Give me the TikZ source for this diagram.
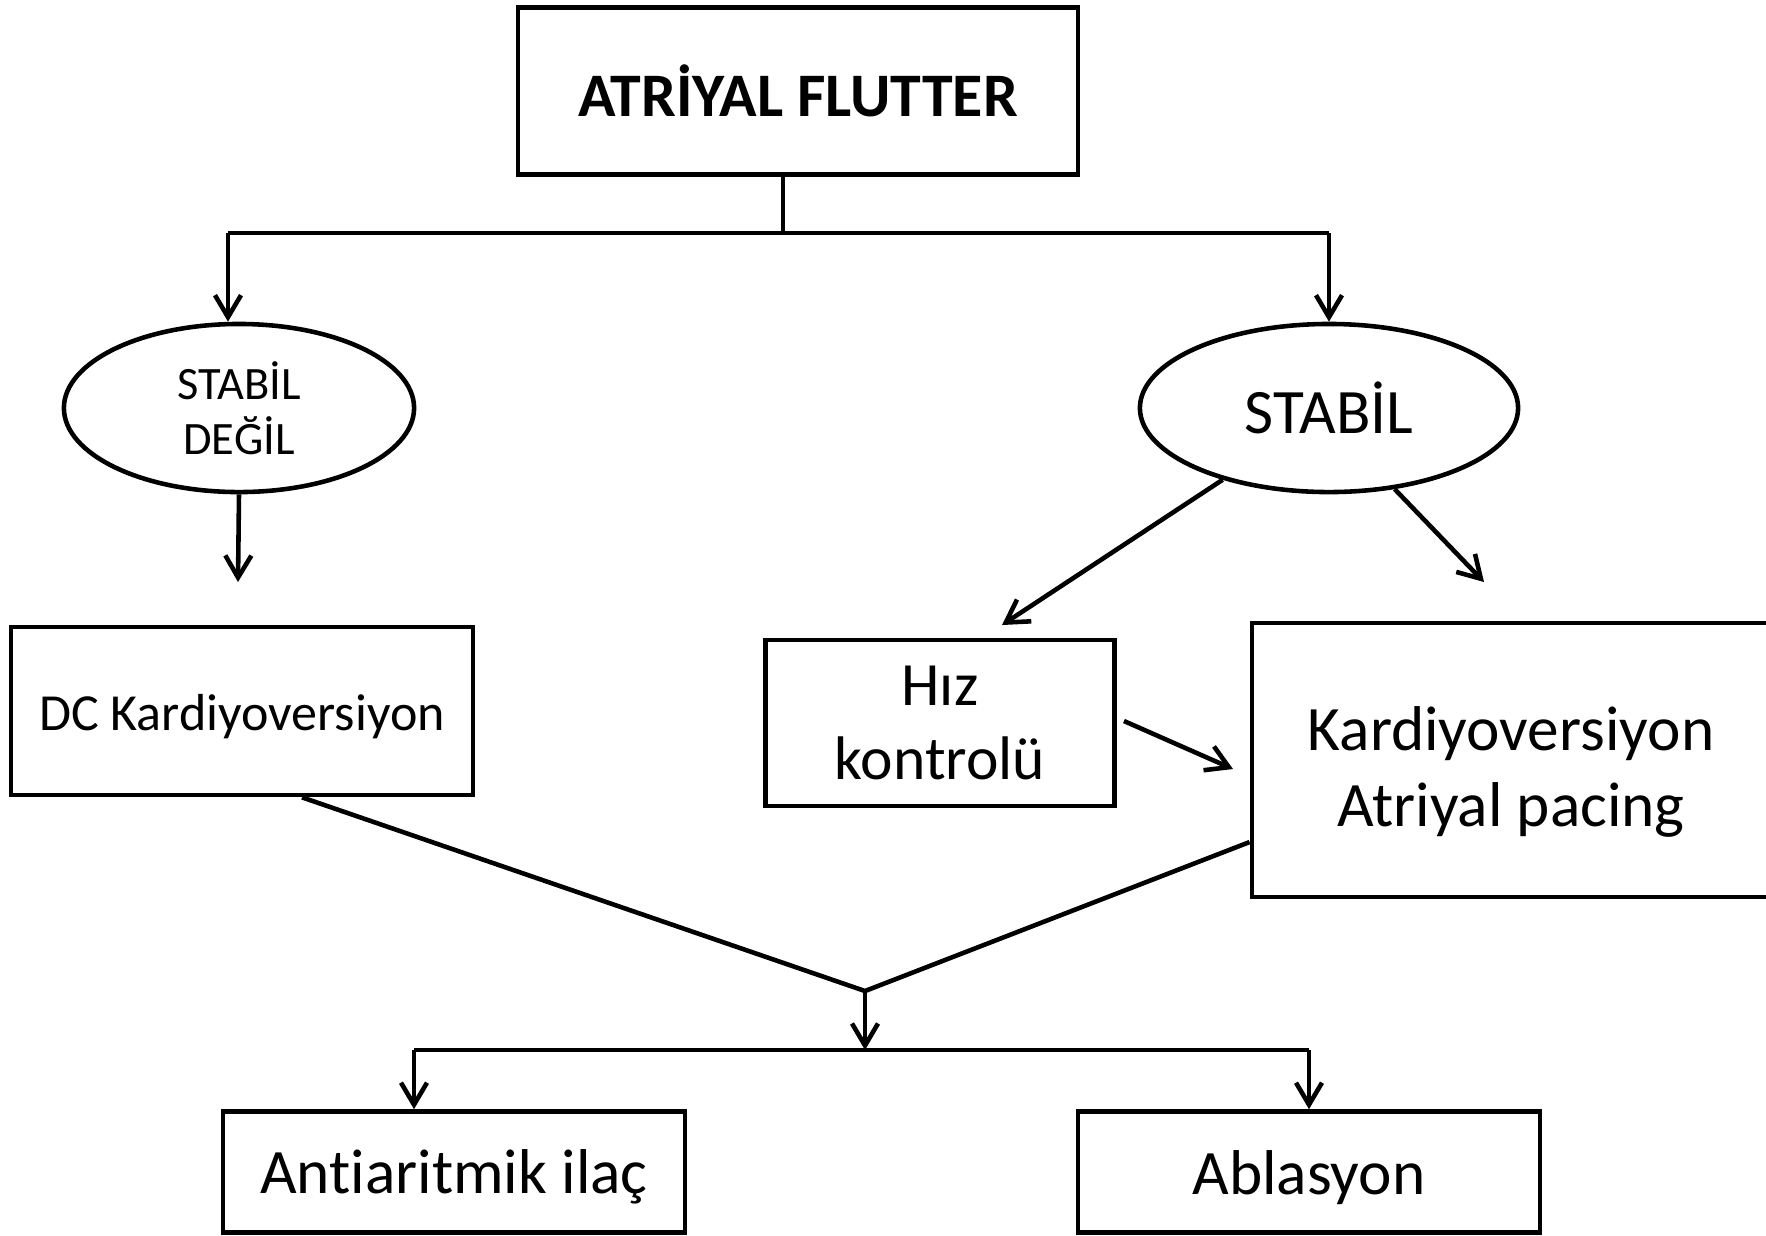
\documentclass[tikz,border=0pt]{standalone}
\usepackage{fontspec}
\setmainfont{Carlito}[Ligatures=NoCommon]
\usetikzlibrary{shapes.geometric,arrows.meta}

\begin{document}
\begin{tikzpicture}[x=0.01cm, y=-0.01cm, line width=1.3pt, >={Straight Barb[length=2.2mm,width=2.6mm]}]
  \tikzstyle{mybox}=[draw,rectangle,align=center,inner sep=0pt,font=\fontsize{18}{21.6}\selectfont]
  \tikzstyle{myoval}=[draw,ellipse,align=center,inner sep=0pt]
  \useasboundingbox (0,0) rectangle (1766,1235);
  \node[mybox,minimum width=5.6cm,minimum height=1.67cm,font=\fontsize{17.6}{21}\selectfont\bfseries] (flutter) at (798,91) {ATRİYAL FLUTTER};
  \node[myoval,minimum width=3.5cm,minimum height=1.68cm,font=\fontsize{13.2}{15.8}\selectfont] (unstable) at (239,408) {STABİL\\DEĞİL};
  \node[myoval,minimum width=3.78cm,minimum height=1.68cm,font=\fontsize{18}{21.6}\selectfont] (stable) at (1329,408) {STABİL};
  \node[mybox,minimum width=4.62cm,minimum height=1.68cm,text height=13.4pt,font=\fontsize{14.8}{17.8}\selectfont] (dc) at (242,711) {DC Kardiyoversiyon};
  \node[mybox,minimum width=3.49cm,minimum height=1.66cm,font=\fontsize{17.5}{21}\selectfont] (hiz) at (940,723) {Hız\\kontrolü};
  \node[mybox,minimum width=5.18cm,minimum height=2.74cm] (kardio) at (1511,760) {\rule{0pt}{19.5pt}Kardiyoversiyon\\Atriyal pacing};
  \node[mybox,minimum width=4.62cm,minimum height=1.21cm,text height=15.5pt] (anti) at (454,1172) {Antiaritmik ilaç};
  \node[mybox,minimum width=4.62cm,minimum height=1.21cm,text height=15.5pt] (abl) at (1309,1172) {Ablasyon};
  % split under the title
  \coordinate (top) at (783,233);
  \coordinate (lt) at (228,233);
  \coordinate (rt) at (1329,233);
  \draw (flutter.south -| top) -- (top);
  \draw (lt) -- (rt);
  \draw[->] (lt) -- (lt |- unstable.north);
  \draw[->] (rt) -- (stable.north);
  % from the two ovals
  \coordinate (a1) at (238,582);
  \coordinate (a2) at (1002,625);
  \coordinate (a3) at (1484,582);
  \draw[->] (unstable.south) -- (a1);
  \draw[->] (stable.214) -- (a2);
  \draw[->] (stable.309) -- (a3);
  \coordinate (a4) at (1124,721);
  \coordinate (a5) at (1233,769);
  \draw[->] (a4) -- (a5);
  % join and split to the last two boxes
  \coordinate (j) at (865,991);
  \coordinate (j2) at (865,1050);
  \coordinate (ll) at (414,1050);
  \coordinate (rr) at (1309,1050);
  \draw ([xshift=0.6cm]dc.south) -- (j) -- ([yshift=-0.82cm]kardio.west);
  \draw[->] (j) -- (j2);
  \draw (ll) -- (rr);
  \draw[->] (ll) -- (ll |- anti.north);
  \draw[->] (rr) -- (abl.north);
\end{tikzpicture}
\end{document}
